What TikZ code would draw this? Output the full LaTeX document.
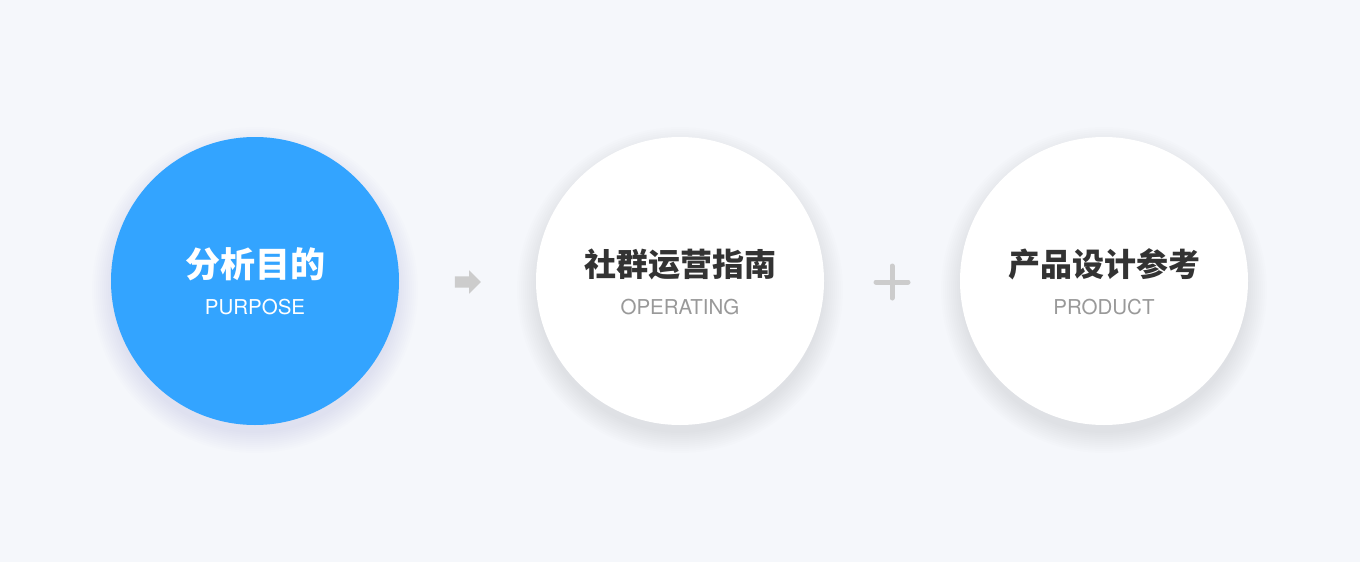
\documentclass[tikz,border=0pt]{standalone}
\usepackage{fontspec}
\setmainfont{TeX Gyre Heros}
\newfontfamily\cjk{Noto Sans CJK SC}
\usetikzlibrary{positioning,calc,shapes.arrows}
\definecolor{bg}{HTML}{F5F7FB}
\definecolor{sky}{HTML}{33A4FF}
\definecolor{ink}{HTML}{333333}
\definecolor{sub}{HTML}{999999}
\definecolor{signgray}{HTML}{CCCCCC}
\tikzset{bubble/.style={circle,inner sep=0pt,minimum size=288pt,fill=white}}
\tikzset{title/.style={inner sep=0pt,node font=\cjk\bfseries\fontsize{32}{32}\selectfont,text=ink}}
\tikzset{tag/.style={inner sep=0pt,node font=\fontsize{20.5}{20.5}\selectfont,text=sub}}
\tikzset{halo/.style={fill=#1,fill opacity=0.006,draw=none}}
\begin{document}
\begin{tikzpicture}[x=1pt,y=-1pt]
        \useasboundingbox[fill=bg] (0,0) rectangle (1360,562);
        % soft shadows
        \foreach \cx/\tint in {255/sky!60!black,680/black!70!blue,1104/black!70!blue}{
          \foreach \r in {1,3,...,21}{
            \fill[halo=\tint] (\cx,290) circle ({142+\r});
          }
        }
        \node (purpose) [bubble,fill=sky] at (255,281) {};
        \node (operating) [bubble] at (680,281) {};
        \node (product) [bubble] at (1104,281) {};
        \node (purposecn) [title,text=white,node font=\cjk\bfseries\fontsize{35}{35}\selectfont] at (255,264) {分析目的};
        \node (purposeen) [tag,text=white] at (255,307) {PURPOSE};
        \node (operatingcn) [title] at (680,264) {社群运营指南};
        \node (operatingen) [tag] at (680,307) {OPERATING};
        \node (productcn) [title] at (1104,264) {产品设计参考};
        \node (producten) [tag] at (1104,307) {PRODUCT};
        \node (then) [single arrow,fill=signgray,inner xsep=0pt,inner ysep=5.5pt,minimum height=26pt,
          single arrow head extend=6pt,single arrow head indent=0pt] at (465,282) {};
        \node (plus) at (892,282) {};
        \draw[signgray,line width=5pt,line cap=round] ($(plus)+(-16,0)$) -- ($(plus)+(16,0)$);
        \draw[signgray,line width=5pt,line cap=round] ($(plus)+(0,-16)$) -- ($(plus)+(0,16)$);
\end{tikzpicture}
\end{document}
